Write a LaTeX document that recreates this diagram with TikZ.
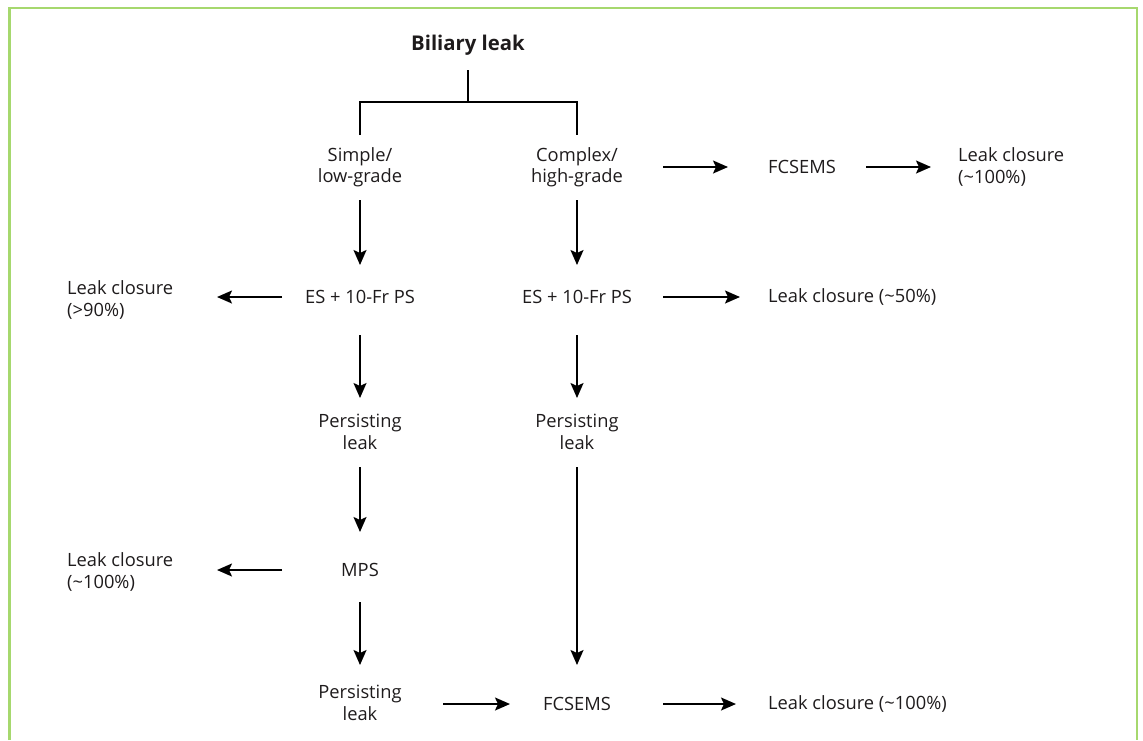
\documentclass[tikz,border=0pt]{standalone}
\usepackage{fontspec}
\setmainfont{Open Sans}
\usetikzlibrary{arrows.meta,calc}
\definecolor{frame}{HTML}{A6D86E}
\definecolor{txt}{HTML}{1E1B1C}
\tikzset{
  lbl/.style={inner sep=0pt, text=txt, font=\fontsize{18.3}{21.5}\selectfont, align=center},
  lbll/.style={lbl, anchor=west, align=left},
  ln/.style={line width=1.8pt, draw=black},
  arr/.style={ln, -{Stealth[length=15pt,width=13pt,inset=3pt]}},
}
\begin{document}
\begin{tikzpicture}[x=1pt,y=-1pt]
\useasboundingbox (0,0) rectangle (1143,740);
\draw[frame, line width=2.8pt] (9.5,740) -- (9.5,8) -- (1137,8) -- (1137,740);

\node[lbl, font=\fontsize{20.3}{24}\selectfont\bfseries] (bil) at (468,45) {Biliary leak};
\node[lbl] (simple) at (360,167) {Simple/\\low-grade};
\node[lbl] (complex) at (577,167) {Complex/\\high-grade};
\node[lbl] (fc1) at (802,167) {FCSEMS};
\node[lbll] (lc1) at (958,167) {Leak closure\\(\textasciitilde100\%)};
\node[lbl] (es1) at (360,297) {ES + 10-Fr PS};
\node[lbl] (es2) at (577,297) {ES + 10-Fr PS};
\node[lbll] (lc2) at (67,300) {Leak closure\\(>90\%)};
\node[lbll] (lc3) at (768,297) {Leak closure (\textasciitilde50\%)};
\node[lbl] (p1) at (360,432) {Persisting\\leak};
\node[lbl] (p2) at (577,432) {Persisting\\leak};
\node[lbl] (mps) at (360,570) {MPS};
\node[lbll] (lc4) at (67,572) {Leak closure\\(\textasciitilde100\%)};
\node[lbl] (p3) at (360,703) {Persisting\\leak};
\node[lbl] (fc2) at (577,704) {FCSEMS};
\node[lbll] (lc5) at (768,704) {Leak closure (\textasciitilde100\%)};

\coordinate (j) at (468,102);
\draw[ln] ($(bil.center)+(0,25)$) -- (bil.center |- j);
\draw[ln] ($(simple.center)+(0,-32)$) |- (bil.center |- j) -| ($(complex.center)+(0,-32)$);

\draw[arr, shorten <=86pt, shorten >=74pt] (complex.center) -- (fc1.center);
\draw[arr, shorten <=64pt, shorten >=27pt] (fc1.center) -- (lc1.west |- fc1.center);
\draw[arr, shorten <=33pt, shorten >=32pt] (simple.center) -- (es1.center);
\draw[arr, shorten <=33pt, shorten >=32pt] (complex.center) -- (es2.center);
\draw[arr, shorten <=78pt, shorten >=150pt] (es1.center) -- (es1.center -| lc2.west);
\draw[arr, shorten <=86pt, shorten >=28pt] (es2.center) -- (es2.center -| lc3.west);
\draw[arr, shorten <=38pt, shorten >=34pt] (es1.center) -- (p1.center);
\draw[arr, shorten <=38pt, shorten >=34pt] (es2.center) -- (p2.center);
\draw[arr, shorten <=35pt, shorten >=38pt] (p1.center) -- (mps.center);
\draw[arr, shorten <=78pt, shorten >=150pt] (mps.center) -- (mps.center -| lc4.west);
\draw[arr, shorten <=32pt, shorten >=38pt] (mps.center) -- (p3.center);
\draw[arr, shorten <=35pt, shorten >=39pt] (p2.center) -- (fc2.center);
\draw[arr, shorten <=83pt, shorten >=67pt] (p3.center |- fc2.center) -- (fc2.center);
\draw[arr, shorten <=86pt, shorten >=32pt] (fc2.center) -- (lc5.west |- fc2.center);
\end{tikzpicture}
\end{document}
